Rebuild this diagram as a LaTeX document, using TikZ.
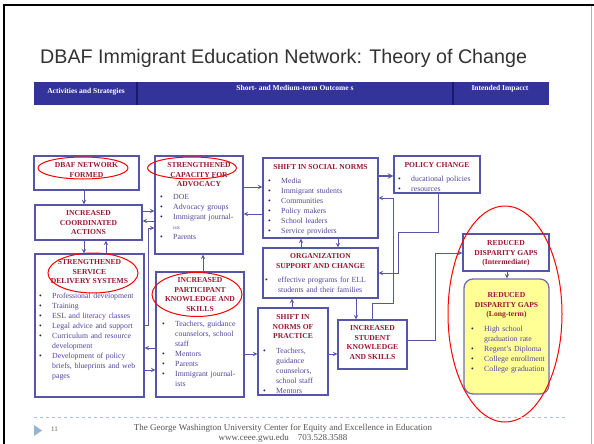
\documentclass[tikz,border=0pt]{standalone}
\usepackage{fontspec}
\setmainfont{Liberation Serif}
\newfontfamily\slidefont{Liberation Sans}
\usetikzlibrary{arrows}
\definecolor{barblue}{RGB}{51,51,153}
\definecolor{barline}{RGB}{25,25,110}
\definecolor{boxblue}{RGB}{85,85,170}
\definecolor{ttlred}{RGB}{150,25,50}
\definecolor{itemblue}{RGB}{80,70,160}
\definecolor{dotblue}{RGB}{30,30,120}
\definecolor{padyellow}{RGB}{255,255,150}
\definecolor{footgray}{RGB}{85,85,85}
\definecolor{ruleblue}{RGB}{170,195,220}
\definecolor{triblue}{RGB}{150,180,210}
% une puce avec retrait suspendu
\newcommand{\itm}[1]{\par\hangindent=13pt\hangafter=1\noindent\makebox[13pt][l]{\textcolor{dotblue}{\textbullet}}#1}
\tikzset{
  box/.style={draw=boxblue,line width=1.3pt,inner sep=0pt},
  ttl/.style={font=\fontsize{7.6}{9.7}\selectfont\bfseries,text=ttlred,align=center,inner sep=0pt,anchor=north},
  items/.style={font=\fontsize{7.8}{10}\selectfont,text=itemblue,text width=120pt,align=left,inner sep=0pt,anchor=north west},
  head/.style={font=\fontsize{7.5}{9}\selectfont\bfseries,text=white,inner sep=0pt,anchor=base},
  link/.style={draw=boxblue,line width=1pt,->,>=stealth},
  ring/.style={draw=red,line width=1pt},
}
\begin{document}
\begin{tikzpicture}[x=1pt,y=-1pt]
\useasboundingbox (0,0) rectangle (594,444);
\fill[white] (0,0) rectangle (594,444);
% cadre de la diapositive
\draw[black,line width=2pt] (4,444)--(4,5)--(594,5);
\draw[gray!60,line width=0.6pt] (591,6)--(591,444);
% titre
\node[anchor=base west,font=\slidefont\fontsize{19.7}{22}\selectfont,text=black!80,inner sep=0pt] (title) at (40,63.5) {DBAF Immigrant Education Network: Theory of Change};
% bandeau
\fill[barblue] (34,82) rectangle (549,105);
\draw[barline,line width=1.2pt] (137,82)--(137,105);
\draw[barline,line width=1.2pt] (453,82)--(453,105);
\node[head] (hact) at (86,93) {Activities and Strategies};
\node[head] (hout) at (295,90) {Short- and Medium-term Outcome s};
\node[head] (himp) at (500,90) {Intended Impacct};
% les cadres
\node[box,minimum width=105,minimum height=34] (dbaf) at (86.5,173) {};
\node[box,minimum width=107,minimum height=35] (coord) at (88.5,222.5) {};
\node[box,minimum width=88,minimum height=98] (cap) at (199,205) {};
\node[box,minimum width=109,minimum height=143] (svc) at (89.5,325.5) {};
\node[box,minimum width=88,minimum height=125] (part) at (200,334.5) {};
\node[box,minimum width=115,minimum height=80] (soc) at (320.5,198) {};
\node[box,minimum width=86,minimum height=37] (pol) at (437,174.5) {};
\node[box,minimum width=115,minimum height=50] (org) at (320.5,273) {};
\node[box,minimum width=70,minimum height=87] (prac) at (293,351.5) {};
\node[box,minimum width=69,minimum height=49] (stu) at (372.5,344.5) {};
\node[box,minimum width=86,minimum height=37] (rdi) at (506,252.5) {};
\node[box,draw=boxblue!85,fill=padyellow,rounded corners=9pt,minimum width=85,minimum height=115] (rdl) at (506.5,336.5) {};
% titres des cadres
\node[ttl] (dbafT) at (86.5,162.3) {DBAF NETWORK\\FORMED};
\node[ttl] (coordT) at (88.5,210.3) {INCREASED\\COORDINATED\\ACTIONS};
\node[ttl] (capT) at (199,162.3) {STRENGTHENED\\CAPACITY FOR\\ADVOCACY};
\node[ttl] (svcT) at (89.5,259.3) {STRENGTHENED\\SERVICE\\DELIVERY SYSTEMS};
\node[ttl] (partT) at (200,277.3) {INCREASED\\PARTICIPANT\\KNOWLEDGE AND\\SKILLS};
\node[ttl] (socT) at (320.5,164.3) {SHIFT IN SOCIAL NORMS};
\node[ttl] (polT) at (437,162.3) {POLICY CHANGE};
\node[ttl] (orgT) at (320.5,253.3) {ORGANIZATION\\SUPPORT AND CHANGE};
\node[ttl] (pracT) at (293,314.3) {SHIFT IN\\NORMS OF\\PRACTICE};
\node[ttl] (stuT) at (372.5,325.3) {INCREASED\\STUDENT\\KNOWLEDGE\\AND SKILLS};
\node[ttl] (rdiT) at (506,240.3) {REDUCED\\DISPARITY GAPS\\(Intermediate)};
\node[ttl] (rdlT) at (506.5,292.3) {REDUCED\\DISPARITY GAPS\\(Long-term)};
% listes
\node[items] (capL) at (160,189.7) {\itm{DOE}\itm{Advocacy groups}\itm{Immigrant journal-\newline{\fontsize{5}{10}\selectfont ists}}\itm{Parents}\par};
\node[items] (svcL) at (39,288.7) {\itm{Professional development}\itm{Training}\itm{ESL and literacy classes}\itm{Legal advice and support}\itm{Curriculum and resource\newline development}\itm{Development of policy\newline briefs, blueprints and web\newline pages}\par};
\node[items] (partL) at (162,316.7) {\itm{Teachers, guidance\newline counselors, school\newline staff}\itm{Mentors}\itm{Parents}\itm{Immigrant journal-\newline ists}\par};
\node[items] (socL) at (268,173.7) {\itm{Media}\itm{Immigrant students}\itm{Communities}\itm{Policy makers}\itm{School leaders}\itm{Service providers}\par};
\node[items] (polL) at (398,171.7) {\itm{ducational policies}\itm{resources}\par};
\node[items] (orgL) at (265,272.7) {\itm{effective programs for ELL\newline students and their families}\par};
\node[items] (pracL) at (263,343.7) {\itm{Teachers,\newline guidance\newline counselors,\newline school staff}\itm{Mentors}\par};
\node[items] (rdlL) at (471,321.7) {\itm{High school\newline graduation rate}\itm{Regent's Diploma}\itm{College enrollment}\itm{College graduation}\par};
% fleches
\draw[link] (dbaf.south -| 84,0) -- (coord.north -| 84,0);
\draw[link] (coord.south -| 84,0) -- (svc.north -| 84,0);
\draw[link] (svc.north -| 106,0) -- (coord.south -| 106,0);
\draw[link] (coord.east |- 0,211) -- (cap.west |- 0,211);
\draw[link] (cap.west |- 0,221) -- (coord.east |- 0,221);
\draw[link] (svc.east |- 0,325) -| (148,228) -- (cap.west |- 0,228);
\draw[link] (part.west |- 0,348) -- (svc.east |- 0,348);
\draw[link] (svc.east |- 0,370) -- (part.west |- 0,370);
\draw[link] (part.north -| 203,0) -- (cap.south -| 203,0);
\draw[link] (cap.east |- 0,187) -- (soc.west |- 0,187);
\draw[link] (soc.west |- 0,214) -- (cap.east |- 0,214);
\draw[link,line width=1.5pt] (soc.east |- 0,176) -- (pol.west |- 0,176);
\draw[link] (org.north -| 301,0) -- (soc.south -| 301,0);
\draw[link] (soc.south -| 338,0) -- (org.north -| 338,0);
\draw[link] (stu.north -| 372,0) |- (393,303) |- (soc.east |- 0,198);
\draw[link] (pol.south -| 438,0) |- (398,232) |- (org.east |- 0,273);
\draw[link] (org.south -| 356,0) -- (stu.north -| 356,0);
\draw[link] (prac.north -| 292,0) -- (org.south -| 292,0);
\draw[link] (part.east |- 0,354) -- (prac.west |- 0,354);
\draw[link] (prac.east |- 0,354) -- (stu.west |- 0,354);
\draw[link] (stu.east |- 0,340) -| (435,253) -- (rdi.west |- 0,253);
\draw[link] (rdi.south -| 507,0) -- (rdl.north -| 507,0);
% les ellipses rouges
\draw[ring] (83,168) ellipse [x radius=45pt,y radius=11pt];
\draw[ring] (192,168) ellipse [x radius=44.5pt,y radius=11pt];
\draw[ring] (93,273) ellipse [x radius=45pt,y radius=20pt];
\draw[ring] (197,294.5) ellipse [x radius=45pt,y radius=22pt];
\draw[ring] (505,314) ellipse [x radius=57pt,y radius=108pt];
% pied de page
\draw[ruleblue,dashed,line width=0.6pt] (34,417) -- (566,417);
\fill[triblue] (34,425) -- (42,430.5) -- (34,436) -- cycle;
\node[anchor=base west,font=\fontsize{7}{8}\selectfont,text=footgray,inner sep=0pt] (pnum) at (51,431) {11};
\node[anchor=north,align=center,font=\fontsize{9}{10.5}\selectfont,text=footgray,inner sep=0pt] (foot) at (283,423.5) {The George Washington University Center for Equity and Excellence in Education\\www.ceee.gwu.edu\quad 703.528.3588};
\end{tikzpicture}
\end{document}
